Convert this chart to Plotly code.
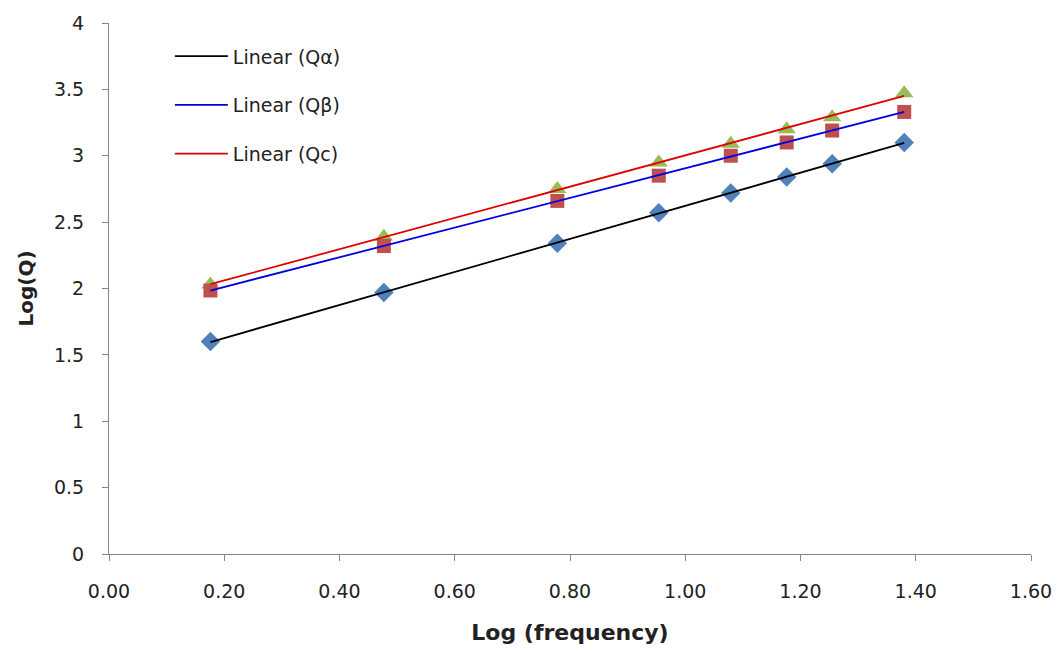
import numpy as np
import plotly.graph_objects as go

# log10 of the frequencies (Hz)
log_freq = [0.176, 0.477, 0.778, 0.954, 1.079, 1.176, 1.255, 1.380]

# log10 of quality factors
log_q_alpha = [1.60, 1.97, 2.34, 2.57, 2.72, 2.84, 2.94, 3.10]
log_q_beta = [1.985, 2.32, 2.66, 2.85, 3.00, 3.10, 3.19, 3.33]
log_q_c = [2.03, 2.39, 2.75, 2.95, 3.09, 3.20, 3.29, 3.47]

x_ticks = [0.0, 0.2, 0.4, 0.6, 0.8, 1.0, 1.2, 1.4, 1.6]
y_ticks = [0, 0.5, 1, 1.5, 2, 2.5, 3, 3.5, 4]

FONT = "DejaVu Sans, sans-serif"

x = np.array(log_freq)
fig = go.Figure()

# Scatter markers (no legend entries)
fig.add_trace(go.Scatter(x=log_freq, y=log_q_alpha, mode="markers", showlegend=False,
                         marker=dict(symbol="diamond", size=15, color="#4F81BD")))
fig.add_trace(go.Scatter(x=log_freq, y=log_q_c, mode="markers", showlegend=False,
                         marker=dict(symbol="triangle-up", size=16, color="#9BBB59")))
fig.add_trace(go.Scatter(x=log_freq, y=log_q_beta, mode="markers", showlegend=False,
                         marker=dict(symbol="square", size=14, color="#C0504D")))

# Least-squares linear trend lines
for name, ys, col in [("Linear (Qα)", log_q_alpha, "#000000"),
                      ("Linear (Qβ)", log_q_beta, "#0000E0"),
                      ("Linear (Qc)", log_q_c, "#E00000")]:
    slope, intercept = np.polyfit(x, np.array(ys), 1)
    xs = np.array([x.min(), x.max()])
    fig.add_trace(go.Scatter(x=xs, y=slope * xs + intercept, mode="lines", name=name,
                             legendgroup=name, line=dict(color=col, width=1.8)))

axis_common = dict(showgrid=False, zeroline=False, showline=True, linecolor="#868686",
                   linewidth=1, ticks="outside", ticklen=6, tickcolor="#868686",
                   ticklabelstandoff=14,
                   tickfont=dict(family=FONT, size=19, color="#222"))

fig.update_layout(
    width=1064, height=652,
    margin=dict(l=109, r=28, t=16, b=97),
    paper_bgcolor="white", plot_bgcolor="white",
    xaxis=dict(range=[0, 1.6], tickvals=x_ticks, tickformat=".2f",
               title=dict(text="<b>Log (frequency)</b>", font=dict(family=FONT, size=22, color="#222"), standoff=23),
               **axis_common),
    yaxis=dict(range=[0, 4], tickvals=y_ticks,
               title=dict(text="<b>Log(Q)</b>", font=dict(family=FONT, size=20, color="#222"), standoff=14),
               **axis_common),
    legend=dict(x=0.066, y=0.973, xanchor="left", yanchor="top", bgcolor="rgba(0,0,0,0)",
                font=dict(family=FONT, size=19, color="#222"),
                tracegroupgap=21, itemwidth=53),
)

fig.write_html("out.html")
